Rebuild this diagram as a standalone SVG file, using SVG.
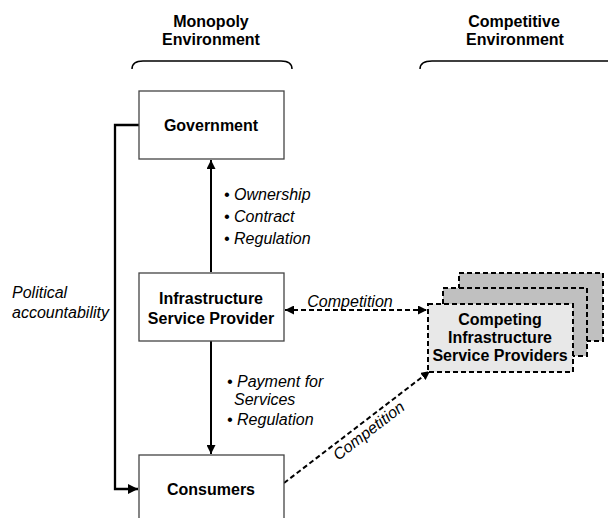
<svg xmlns="http://www.w3.org/2000/svg" width="608" height="518" viewBox="0 0 608 518">
<style>
.box{fill:#fff;stroke:#444;stroke-width:1.3}
.b{font-family:"Liberation Sans",Arial,sans-serif;font-weight:bold;font-size:16px;fill:#000;text-anchor:middle}
.i{font-family:"Liberation Sans",Arial,sans-serif;font-style:italic;font-size:16px;fill:#000}
.ln{fill:none;stroke:#000;stroke-width:2}
.dash{fill:none;stroke:#000;stroke-width:2;stroke-dasharray:5,3}
.stack{stroke:#000;stroke-width:2;stroke-dasharray:5,3}
</style>
<defs>
<marker id="ah" viewBox="0 0 10 10" refX="10" refY="5" markerWidth="4.5" markerHeight="4.5" orient="auto-start-reverse" markerUnits="strokeWidth">
<path d="M0,0 L10,5 L0,10 z" fill="#000"/>
</marker>
</defs>

<g id="headings">
<text class="b" x="211" y="27">Monopoly</text>
<text class="b" x="211" y="45">Environment</text>
<path class="ln" style="stroke-width:1.5" d="M132,69 Q132,61 143,61 L281,61 Q292,61 292,69"/>
<text class="b" x="514" y="27">Competitive</text>
<text class="b" x="515" y="45">Environment</text>
<path class="ln" style="stroke-width:1.5" d="M420,69 Q420,61 432,61 L608,61"/>
</g>

<g id="connectors">
<line class="ln" x1="211" y1="272" x2="211" y2="160" marker-end="url(#ah)"/>
<line class="ln" x1="211" y1="341" x2="211" y2="454" marker-end="url(#ah)"/>
<polyline class="ln" style="stroke-width:2.3" points="139,125 115,125 115,489 138,489" marker-end="url(#ah)"/>
<line class="dash" x1="285" y1="310" x2="427" y2="310" marker-start="url(#ah)" marker-end="url(#ah)"/>
<line class="dash" x1="284" y1="483" x2="430" y2="371" marker-end="url(#ah)"/>
</g>

<g id="labels">
<text class="i" x="224" y="200">• Ownership</text>
<text class="i" x="224" y="222">• Contract</text>
<text class="i" x="224" y="244">• Regulation</text>
<text class="i" x="227" y="387">• Payment for</text>
<text class="i" x="234" y="405">Services</text>
<text class="i" x="227" y="425">• Regulation</text>
<text class="i" x="12" y="298">Political</text>
<text class="i" x="12" y="318">accountability</text>
<text class="i" x="350" y="307" text-anchor="middle">Competition</text>
<text class="i" text-anchor="middle" transform="translate(372,435) rotate(-37.5)">Competition</text>
</g>

<g id="government">
<rect class="box" x="139" y="91" width="145" height="68"/>
<text class="b" x="211" y="131">Government</text>
</g>

<g id="provider">
<rect class="box" x="139" y="273" width="145" height="68"/>
<text class="b" x="211" y="304">Infrastructure</text>
<text class="b" x="211" y="324">Service Provider</text>
</g>

<g id="consumers">
<rect class="box" x="139" y="455" width="145" height="80"/>
<text class="b" x="211" y="495">Consumers</text>
</g>

<g id="competitors">
<rect class="stack" x="459" y="273" width="144" height="68" fill="#c0c0c0"/>
<rect class="stack" x="443" y="288" width="144" height="68" fill="#c0c0c0"/>
<rect class="stack" x="428" y="304" width="145" height="68" fill="#e8e8e8"/>
<text class="b" x="500" y="325">Competing</text>
<text class="b" x="500" y="343">Infrastructure</text>
<text class="b" x="500" y="361">Service Providers</text>
</g>
</svg>
